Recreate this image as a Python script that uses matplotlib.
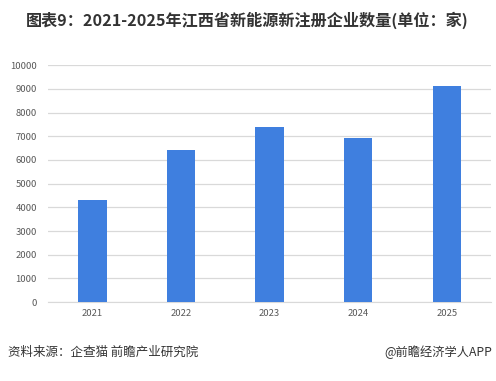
import matplotlib.pyplot as plt
import numpy as np

plt.rcParams['font.family'] = ['Noto Sans CJK SC', 'DejaVu Sans']

years = ['2021', '2022', '2023', '2024', '2025']
counts = [4300, 6410, 7380, 6920, 9110]
yticks = list(range(0, 10001, 1000))

BAR = '#3f7fdf'
GRID = '#d9d9d9'
TXT = '#595959'

fig = plt.figure(figsize=(4.96, 3.81), dpi=100, facecolor='white')
ax = fig.add_axes([0.097, 0.207, 0.893, 0.622])

x = np.arange(len(years))
ax.bar(x, counts, width=0.32, color=BAR, zorder=3)
ax.set_xlim(-0.5, len(years) - 0.5)
ax.set_ylim(0, 10000)
ax.set_xticks(x)
ax.set_xticklabels(years)
ax.set_yticks(yticks)
ax.grid(axis='y', color=GRID, linewidth=0.9, zorder=0)
for s in ['top', 'right', 'left']:
    ax.spines[s].set_visible(False)
ax.spines['bottom'].set_color(GRID)
ax.tick_params(axis='both', length=0, labelsize=6.8, labelcolor=TXT)
ax.tick_params(axis='x', pad=5)
ax.tick_params(axis='y', pad=8)

fig.text(0.052, 0.947, '图表9：2021-2025年江西省新能源新注册企业数量(单位：家)',
         fontsize=11.6, fontweight='bold', color='#333333', va='center')
fig.text(0.016, 0.075, '资料来源：企查猫 前瞻产业研究院', fontsize=9,
         color='#333333', va='center')
fig.text(0.992, 0.075, '@前瞻经济学人APP', fontsize=8.8, color='#333333',
         va='center', ha='right')

plt.savefig('out.png', dpi=100, facecolor='white')
plt.close()
